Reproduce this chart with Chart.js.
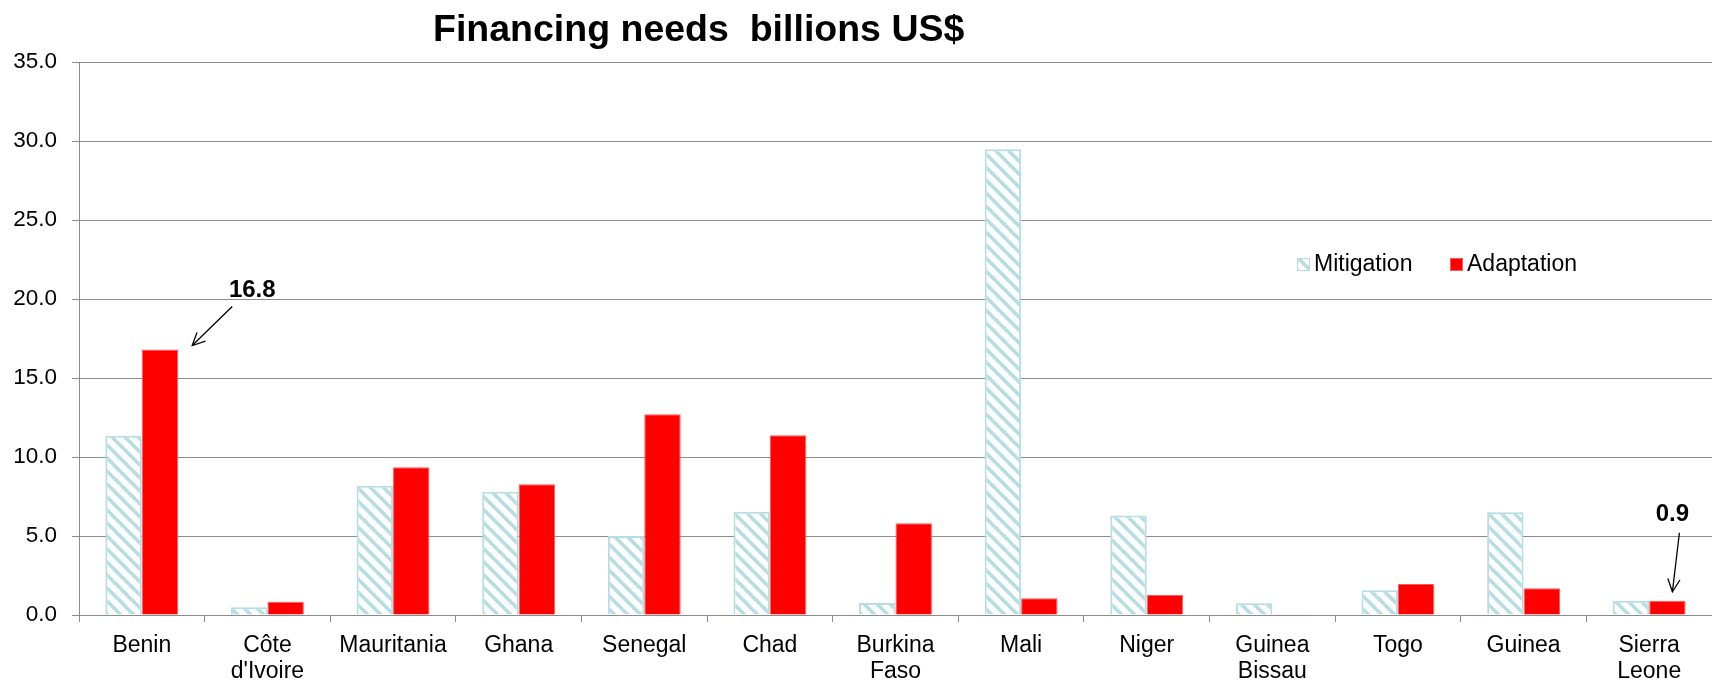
<!DOCTYPE html>
<html>
<head>
<meta charset="utf-8">
<script src="https://cdn.jsdelivr.net/npm/chart.js@4/dist/chart.umd.min.js"></script>
<style>
html,body{margin:0;padding:0;background:#fff;}
#wrap{width:1712px;height:680px;}
</style>
</head>
<body>
<div id="wrap"><canvas id="c" width="1712" height="680"></canvas></div>
<script>
const categories = ["Benin", ["Côte","d'Ivoire"], "Mauritania", "Ghana", "Senegal", "Chad", ["Burkina","Faso"], "Mali", "Niger", ["Guinea","Bissau"], "Togo", "Guinea", ["Sierra","Leone"]];
const mitigation = [11.35, 0.49, 8.18, 7.8, 5.0, 6.54, 0.76, 29.47, 6.29, 0.74, 1.56, 6.5, 0.9];
const adaptation = [16.8, 0.84, 9.35, 8.27, 12.7, 11.37, 5.8, 1.06, 1.27, 0.05, 1.96, 1.69, 0.9];
const yTicks = [0, 5, 10, 15, 20, 25, 30, 35];
const seriesNames = ["Mitigation", "Adaptation"];
const titleText = "Financing needs  billions US$";
const calloutIdx = [0, 12];

const hatchColor = '#b5dde2';
function makeHatch(){
  const s = 13;
  const pc = document.createElement('canvas');
  pc.width = s; pc.height = s;
  const g = pc.getContext('2d');
  g.fillStyle = '#fff'; g.fillRect(0,0,s,s);
  g.strokeStyle = hatchColor; g.lineWidth = 3.6;
  for (let k=-1;k<=1;k++){
    g.beginPath(); g.moveTo(0 - 2, k*s - 2); g.lineTo(s + 2, s + k*s + 2); g.stroke();
  }
  return document.getElementById('c').getContext('2d').createPattern(pc,'repeat');
}
const hatch = makeHatch();

const FONT = "'Liberation Sans', Arial, sans-serif";

const titlePlugin = {
  id:'customTitle',
  afterDraw(chart){
    const ctx = chart.ctx;
    ctx.save();
    ctx.font = "bold 37.5px " + FONT;
    ctx.fillStyle = '#000';
    ctx.textAlign = 'left'; ctx.textBaseline = 'middle';
    ctx.fillText(titleText, 433, 31);
    ctx.restore();
  }
};

const legendPlugin = {
  id:'customLegend',
  afterDatasetsDraw(chart){
    const ctx = chart.ctx;
    const items = [{x:1297}, {x:1450}];
    const y = 265;
    ctx.save();
    ctx.font = "23px " + FONT;
    ctx.textBaseline = 'middle'; ctx.textAlign='left';
    chart.data.datasets.forEach((ds,i)=>{
      const x = items[i].x;
      ctx.fillStyle = ds.backgroundColor;
      ctx.fillRect(x, y-7, 13, 13);
      ctx.strokeStyle = ds.borderColor; ctx.lineWidth = 1;
      ctx.strokeRect(x+0.5, y-6.5, 12, 12);
      ctx.fillStyle = '#000';
      ctx.fillText(ds.label, x+17, y);
    });
    ctx.restore();
  }
};

function arrow(ctx, x1,y1,x2,y2){
  ctx.beginPath(); ctx.moveTo(x1,y1); ctx.lineTo(x2,y2); ctx.stroke();
  const a = Math.atan2(y2-y1, x2-x1);
  const L = 14, w = 0.45;
  ctx.beginPath();
  ctx.moveTo(x2 - L*Math.cos(a-w), y2 - L*Math.sin(a-w));
  ctx.lineTo(x2,y2);
  ctx.lineTo(x2 - L*Math.cos(a+w), y2 - L*Math.sin(a+w));
  ctx.stroke();
}

const calloutPlugin = {
  id:'callouts',
  afterDatasetsDraw(chart){
    const ctx = chart.ctx;
    const meta = chart.getDatasetMeta(1);
    ctx.save();
    ctx.font = "bold 24px " + FONT;
    ctx.fillStyle = '#000'; ctx.strokeStyle = '#000'; ctx.lineWidth = 1.3;
    ctx.textAlign='center'; ctx.textBaseline='middle';
    let el = meta.data[calloutIdx[0]];
    let right = el.x + el.width/2;
    ctx.fillText(adaptation[calloutIdx[0]].toFixed(1), right + 74, el.y - 59);
    arrow(ctx, right + 54, el.y - 43, right + 14, el.y - 4);
    el = meta.data[calloutIdx[1]];
    ctx.fillText(adaptation[calloutIdx[1]].toFixed(1), el.x + 5, el.y - 86);
    arrow(ctx, el.x + 12, el.y - 68, el.x + 5, el.y - 9);
    ctx.restore();
  }
};

new Chart(document.getElementById('c'), {
  type:'bar',
  data:{
    labels: categories,
    datasets:[
      {label: seriesNames[0], data: mitigation, backgroundColor: hatch, borderColor: hatchColor, borderWidth: 2, categoryPercentage: 0.58, barPercentage: 1.0},
      {label: seriesNames[1], data: adaptation, backgroundColor: '#ff0000', borderColor: '#ff5a5a', borderWidth: 1, categoryPercentage: 0.58, barPercentage: 1.0}
    ]
  },
  options:{
    responsive:false,
    animation:false,
    layout:{padding:{top:62, left:0, right:0, bottom:0}},
    plugins:{legend:{display:false}, title:{display:false}, tooltip:{enabled:false}},
    scales:{
      x:{
        grid:{drawOnChartArea:false, drawTicks:true, tickLength:7, color:'#8c8c8c', offset:true},
        border:{color:'#8c8c8c', width:1},
        ticks:{color:'#000', font:{family:FONT, size:23, lineHeight:1.15}, padding:10, maxRotation:0, autoSkip:false},
        afterFit(s){ s.height = 65; }
      },
      y:{
        min:0, max:35,
        afterBuildTicks(s){ s.ticks = yTicks.map(v=>({value:v})); },
        grid:{color:'#8c8c8c', tickLength:7, drawTicks:true},
        border:{color:'#8c8c8c', width:1},
        ticks:{color:'#000', font:{family:FONT, size:22.5}, padding:15, callback:v=>Number(v).toFixed(1)},
        afterFit(s){ s.width = 79; }
      }
    }
  },
  plugins:[titlePlugin, legendPlugin, calloutPlugin]
});
</script>
</body>
</html>
